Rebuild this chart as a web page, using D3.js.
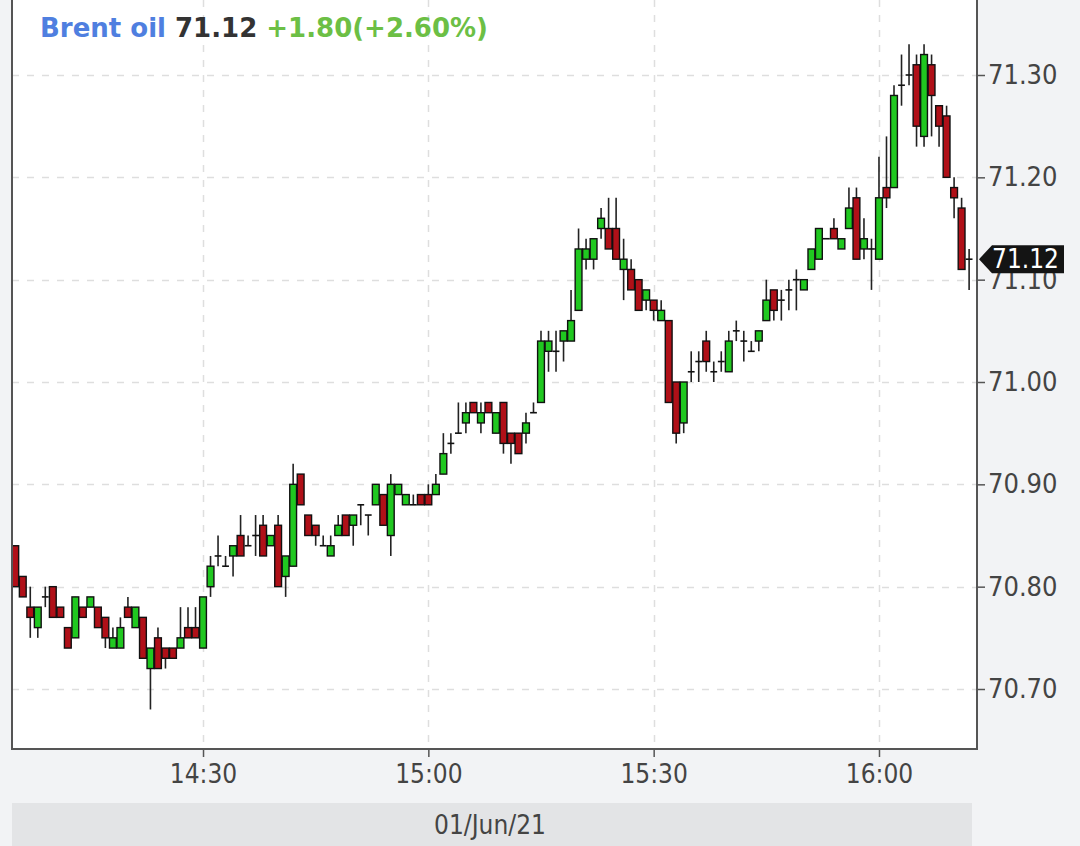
<!DOCTYPE html>
<html>
<head>
<meta charset="utf-8">
<script src="https://cdn.jsdelivr.net/npm/d3@7"></script>
<style>
  html, body { margin: 0; padding: 0; background: #f2f3f5; }
  #chart svg { display: block; }
</style>
</head>
<body>
<div id="chart"></div>
<script>
// 1-minute candles, 14:05 -> 16:12
const times = [
  "14:05","14:06","14:07","14:08","14:09","14:10","14:11","14:12","14:13","14:14",
  "14:15","14:16","14:17","14:18","14:19","14:20","14:21","14:22","14:23","14:24",
  "14:25","14:26","14:27","14:28","14:29","14:30","14:31","14:32","14:33","14:34",
  "14:35","14:36","14:37","14:38","14:39","14:40","14:41","14:42","14:43","14:44",
  "14:45","14:46","14:47","14:48","14:49","14:50","14:51","14:52","14:53","14:54",
  "14:55","14:56","14:57","14:58","14:59","15:00","15:01","15:02","15:03","15:04",
  "15:05","15:06","15:07","15:08","15:09","15:10","15:11","15:12","15:13","15:14",
  "15:15","15:16","15:17","15:18","15:19","15:20","15:21","15:22","15:23","15:24",
  "15:25","15:26","15:27","15:28","15:29","15:30","15:31","15:32","15:33","15:34",
  "15:35","15:36","15:37","15:38","15:39","15:40","15:41","15:42","15:43","15:44",
  "15:45","15:46","15:47","15:48","15:49","15:50","15:51","15:52","15:53","15:54",
  "15:55","15:56","15:57","15:58","15:59","16:00","16:01","16:02","16:03","16:04",
  "16:05","16:06","16:07","16:08","16:09","16:10","16:11","16:12"
];

const opens = [
  70.84,70.81,70.78,70.76,70.79,70.80,70.78,70.76,70.75,70.78,
  70.78,70.78,70.77,70.74,70.74,70.78,70.76,70.77,70.72,70.75,
  70.74,70.74,70.74,70.76,70.76,70.74,70.80,70.83,70.82,70.83,
  70.85,70.84,70.85,70.86,70.84,70.86,70.81,70.82,70.91,70.87,
  70.86,70.84,70.83,70.85,70.87,70.86,70.88,70.87,70.88,70.89,
  70.85,70.89,70.88,70.88,70.89,70.89,70.89,70.91,70.94,70.95,
  70.96,70.98,70.96,70.98,70.95,70.98,70.95,70.95,70.95,70.97,
  70.98,71.03,71.03,71.04,71.04,71.07,71.12,71.12,71.15,71.15,
  71.15,71.11,71.11,71.10,71.08,71.08,71.06,71.06,71.00,70.96,
  71.01,71.02,71.04,71.01,71.02,71.01,71.05,71.04,71.03,71.04,
  71.06,71.09,71.08,71.09,71.10,71.09,71.11,71.12,71.14,71.15,
  71.13,71.15,71.18,71.13,71.13,71.12,71.19,71.19,71.29,71.30,
  71.31,71.24,71.31,71.27,71.26,71.19,71.17,71.12
];

const highs = [
  70.84,70.81,70.80,70.78,70.80,70.80,70.78,70.76,70.79,70.78,
  70.79,70.78,70.77,70.76,70.77,70.79,70.78,70.77,70.74,70.76,
  70.74,70.74,70.78,70.78,70.78,70.79,70.83,70.85,70.83,70.84,
  70.87,70.85,70.87,70.87,70.85,70.87,70.83,70.92,70.91,70.87,
  70.86,70.85,70.85,70.87,70.87,70.87,70.88,70.87,70.90,70.89,
  70.91,70.90,70.89,70.89,70.89,70.90,70.91,70.95,70.95,70.98,
  70.98,70.98,70.98,70.98,70.97,70.98,70.95,70.95,70.97,70.98,
  71.05,71.05,71.05,71.05,71.09,71.15,71.14,71.14,71.17,71.18,
  71.18,71.14,71.12,71.10,71.09,71.08,71.08,71.06,71.00,71.00,
  71.03,71.03,71.05,71.02,71.03,71.05,71.06,71.05,71.04,71.05,
  71.10,71.09,71.09,71.10,71.11,71.10,71.13,71.15,71.14,71.16,
  71.14,71.19,71.19,71.16,71.14,71.22,71.24,71.29,71.32,71.33,
  71.32,71.33,71.32,71.27,71.27,71.20,71.18,71.13
];

const lows = [
  70.80,70.79,70.75,70.75,70.78,70.77,70.77,70.74,70.75,70.77,
  70.78,70.76,70.74,70.74,70.74,70.77,70.76,70.73,70.68,70.72,
  70.72,70.73,70.74,70.75,70.75,70.74,70.79,70.82,70.82,70.81,
  70.83,70.84,70.83,70.83,70.84,70.80,70.79,70.82,70.88,70.85,
  70.84,70.84,70.83,70.85,70.85,70.84,70.86,70.85,70.88,70.86,
  70.83,70.89,70.88,70.88,70.88,70.88,70.89,70.91,70.93,70.95,
  70.95,70.97,70.95,70.97,70.95,70.93,70.92,70.93,70.94,70.97,
  70.98,71.01,71.01,71.02,71.04,71.07,71.11,71.11,71.14,71.13,
  71.12,71.08,71.09,71.07,71.07,71.06,71.06,70.98,70.94,70.95,
  71.00,71.00,71.01,71.00,71.01,71.01,71.04,71.02,71.03,71.03,
  71.06,71.06,71.06,71.07,71.07,71.09,71.11,71.12,71.14,71.14,
  71.13,71.15,71.12,71.12,71.09,71.12,71.17,71.19,71.27,71.29,
  71.23,71.23,71.24,71.23,71.20,71.16,71.11,71.09
];

const closes = [
  70.80,70.79,70.77,70.78,70.79,70.77,70.77,70.74,70.79,70.77,
  70.79,70.76,70.75,70.75,70.76,70.77,70.78,70.73,70.74,70.72,
  70.73,70.73,70.75,70.75,70.75,70.79,70.82,70.83,70.82,70.84,
  70.83,70.84,70.85,70.83,70.85,70.80,70.83,70.90,70.88,70.85,
  70.85,70.84,70.84,70.86,70.85,70.87,70.88,70.87,70.90,70.86,
  70.90,70.90,70.89,70.88,70.88,70.88,70.90,70.93,70.94,70.95,
  70.97,70.97,70.97,70.97,70.97,70.94,70.94,70.93,70.96,70.97,
  71.04,71.04,71.03,71.05,71.06,71.13,71.13,71.14,71.16,71.13,
  71.12,71.12,71.09,71.07,71.09,71.07,71.07,70.98,70.95,71.00,
  71.01,71.02,71.02,71.01,71.02,71.04,71.05,71.04,71.03,71.05,
  71.08,71.07,71.08,71.09,71.10,71.10,71.13,71.15,71.14,71.14,
  71.14,71.17,71.12,71.14,71.13,71.18,71.18,71.28,71.29,71.30,
  71.25,71.32,71.28,71.25,71.20,71.18,71.11,71.12
];

const yTicks = [70.70, 70.80, 70.90, 71.00, 71.10, 71.20, 71.30];
const dateLabel = "01/Jun/21";
const lastPrice = 71.12;
const headerParts = [
  { text: "Brent oil", color: "#4f7fe0" },
  { text: "71.12", color: "#333333" },
  { text: "+1.80(+2.60%)", color: "#6cbf45" }
];

const width = 1080,
      height = 846;

// plot box
const plotL = 12, plotR = 977, plotT = 0, plotB = 749;

const parseTime = d3.timeParse("%Y-%m-%d %H:%M");
const day = "2021-06-01";

const data = times.map(function(t, i) {
  return {
    date: parseTime(day + " " + t),
    open: opens[i],
    high: highs[i],
    low: lows[i],
    close: closes[i]
  };
});

// set range and domain
const x = d3.scaleTime()
  .domain([new Date(2021, 5, 1, 14, 4, 34), new Date(2021, 5, 1, 16, 13, 3)])
  .range([plotL, plotR]);
const y = d3.scaleLinear()
  .domain([70.70, 71.30])
  .range([689, 75]);

const svg = d3.select('#chart').append('svg')
  .attr('width', width)
  .attr('height', height);

svg.append('rect')
  .attr('width', width).attr('height', height)
  .attr('fill', '#f2f3f5');

svg.append('rect')
  .attr('x', plotL).attr('y', plotT)
  .attr('width', plotR - plotL).attr('height', plotB - plotT)
  .attr('fill', '#ffffff');

const xTicks = x.ticks(d3.timeMinute.every(30));

// dashed grid
svg.append('g')
  .selectAll('line')
  .data(yTicks)
  .join('line')
    .attr('x1', plotL).attr('x2', plotR)
    .attr('y1', d => Math.round(y(d)) + 0.5)
    .attr('y2', d => Math.round(y(d)) + 0.5)
    .attr('stroke', '#dedede')
    .attr('stroke-width', 1.5)
    .attr('stroke-dasharray', '7,8');

svg.append('g')
  .selectAll('line')
  .data(xTicks)
  .join('line')
    .attr('y1', plotT).attr('y2', plotB)
    .attr('x1', d => Math.round(x(d)) + 0.5)
    .attr('x2', d => Math.round(x(d)) + 0.5)
    .attr('stroke', '#dedede')
    .attr('stroke-width', 1.5)
    .attr('stroke-dasharray', '7,8');

// candles
const plot = svg.append('g');
const bodyW = 6.8;

plot.selectAll('line.wick')
  .data(data)
  .join('line')
    .attr('class', 'wick')
    .attr('x1', d => x(d.date)).attr('x2', d => x(d.date))
    .attr('y1', d => y(d.high)).attr('y2', d => y(d.low))
    .attr('stroke', '#222')
    .attr('stroke-width', 1.6);

plot.selectAll('rect.body')
  .data(data.filter(d => d.open !== d.close))
  .join('rect')
    .attr('class', 'body')
    .attr('x', d => x(d.date) - bodyW / 2)
    .attr('width', bodyW)
    .attr('y', d => y(Math.max(d.open, d.close)))
    .attr('height', d => Math.abs(y(d.open) - y(d.close)))
    .attr('fill', d => d.close > d.open ? '#20c820' : '#b01018')
    .attr('stroke', '#111')
    .attr('stroke-width', 1.4);

// doji
plot.selectAll('line.doji')
  .data(data.filter(d => d.open === d.close))
  .join('line')
    .attr('class', 'doji')
    .attr('x1', d => x(d.date) - bodyW / 2).attr('x2', d => x(d.date) + bodyW / 2)
    .attr('y1', d => y(d.open)).attr('y2', d => y(d.open))
    .attr('stroke', '#111')
    .attr('stroke-width', 1.6);

// frame
svg.append('path')
  .attr('d', `M${plotL},${plotT}V${plotB}H${plotR}V${plotT}`)
  .attr('fill', 'none')
  .attr('stroke', '#555')
  .attr('stroke-width', 2);

const labelFont = '"DejaVu Sans Condensed", "DejaVu Sans", sans-serif';

// x axis
const xAxis = svg.append('g')
  .attr('transform', `translate(0,${plotB})`)
  .call(d3.axisBottom(x)
    .tickValues(xTicks)
    .tickFormat(d3.timeFormat("%H:%M"))
    .tickSize(8)
    .tickPadding(8));
xAxis.select('.domain').remove();
xAxis.selectAll('line').attr('stroke', '#555').attr('stroke-width', 1.5);
xAxis.selectAll('text')
  .attr('fill', '#444')
  .style('font-family', labelFont)
  .style('font-size', '26px');

// y axis
const yAxis = svg.append('g')
  .attr('transform', `translate(${plotR},0)`)
  .call(d3.axisRight(y)
    .tickValues(yTicks)
    .tickFormat(d3.format(".2f"))
    .tickSize(8)
    .tickPadding(3));
yAxis.select('.domain').remove();
yAxis.selectAll('line').attr('stroke', '#555').attr('stroke-width', 1.5);
yAxis.selectAll('text')
  .attr('fill', '#444')
  .style('font-family', labelFont)
  .style('font-size', '27px');

// last price marker, sits over the 71.10 label like the original
const py = y(lastPrice);
svg.append('path')
  .attr('d', `M${plotR + 2},${py} L${plotR + 15},${py - 14} H1064 V${py + 14} H${plotR + 15} Z`)
  .attr('fill', '#141414');
svg.append('text')
  .attr('x', 992)
  .attr('y', py + 9)
  .attr('fill', '#fff')
  .style('font-family', labelFont)
  .style('font-size', '26px')
  .text(d3.format(".2f")(lastPrice));

// header
const header = svg.append('text')
  .attr('x', 40)
  .attr('y', 37)
  .style('font-family', '"DejaVu Sans", sans-serif')
  .style('font-weight', 'bold')
  .style('font-size', '26px');
header.selectAll('tspan')
  .data(headerParts)
  .join('tspan')
    .attr('fill', d => d.color)
    .text((d, i) => (i > 0 ? ' ' : '') + d.text);

// date bar
svg.append('rect')
  .attr('x', plotL).attr('y', 803)
  .attr('width', 960).attr('height', 43)
  .attr('fill', '#e3e4e6');
svg.append('text')
  .attr('x', 490)
  .attr('y', 834)
  .attr('text-anchor', 'middle')
  .attr('fill', '#444')
  .style('font-family', labelFont)
  .style('font-size', '26px')
  .text(dateLabel);
</script>
</body>
</html>
